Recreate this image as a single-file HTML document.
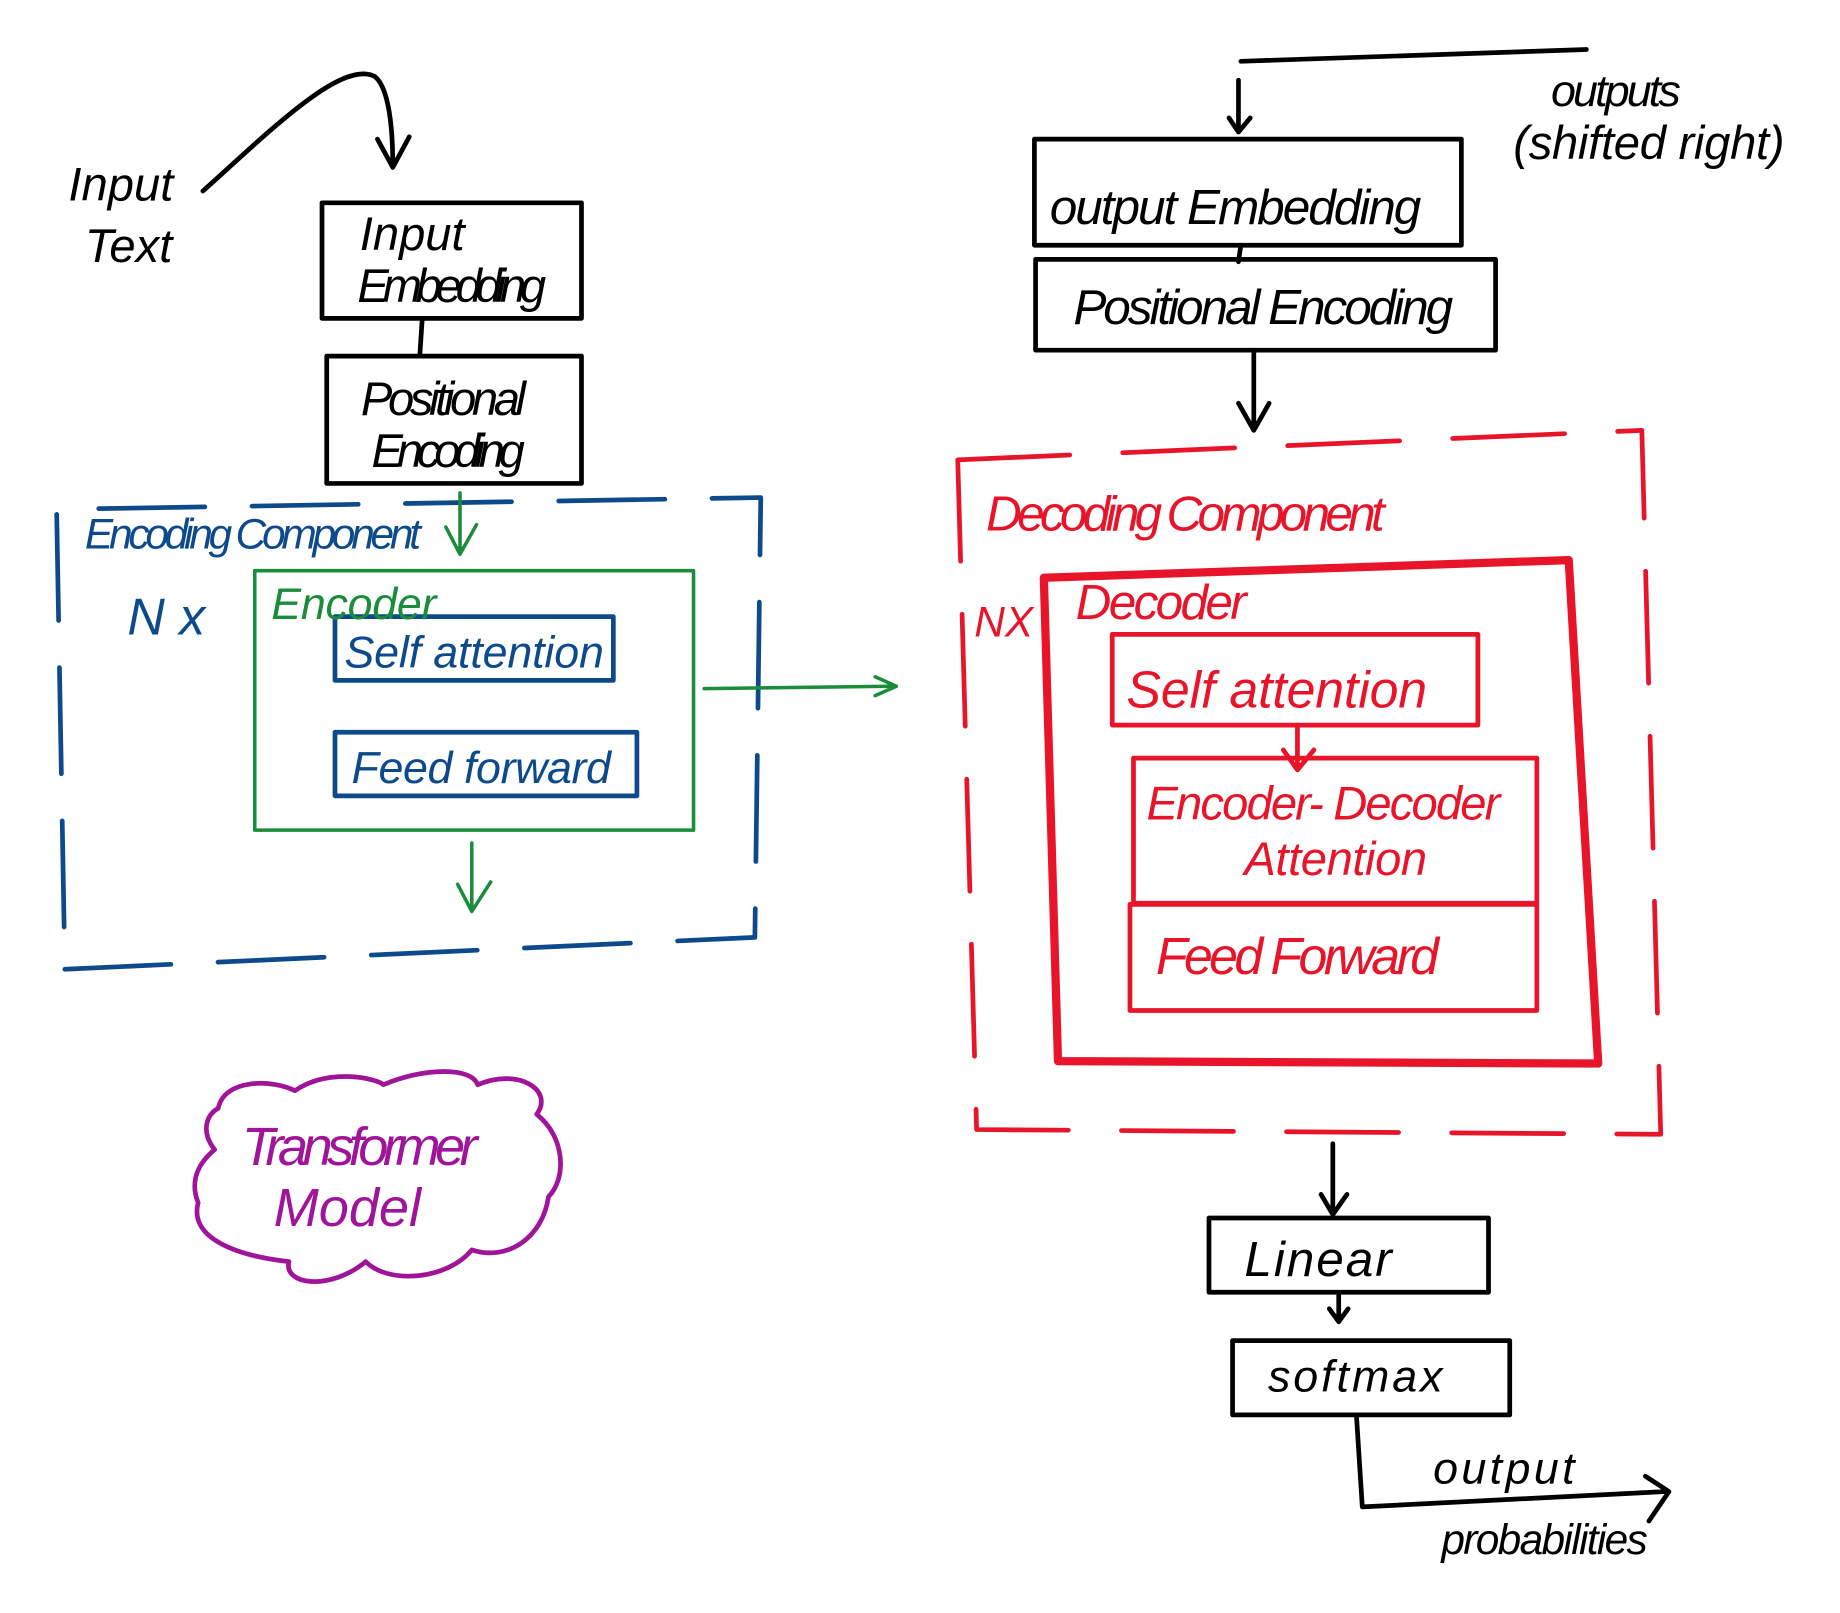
<!DOCTYPE html>
<html><head><meta charset="utf-8"><style>
html,body{margin:0;padding:0;background:#fff;}
svg{display:block;}
text{font-family:"Liberation Sans",sans-serif;font-style:italic;}
</style></head><body>
<svg width="1840" height="1613" viewBox="0 0 1560 1368" preserveAspectRatio="none" xmlns="http://www.w3.org/2000/svg">
<g fill="none" stroke-linecap="round" stroke-linejoin="round">
<!-- left black -->
<g stroke="#000" stroke-width="4">
<path d="M172,162 C230,110 290,50 318,65 C330,75 333,110 333,140"/>
<path d="M320,118 L333,142 L347,116"/>
<rect x="273" y="172" width="220" height="98"/>
<path d="M358,270 L356,300"/>
<rect x="277" y="302" width="216" height="108"/>
</g>
<!-- encoding component blue dashed -->
<g stroke="#0c4a8c" stroke-width="4">
<path d="M55,822 L640,795 L645,422 L48,432 Z" stroke-dasharray="90,40"/>
<rect x="284" y="523" width="236" height="54"/>
<rect x="284" y="621" width="256" height="54"/>
</g>
<g stroke="#1a8c3a" stroke-width="3">
<rect x="216" y="484" width="372" height="220"/>
<path d="M390,418 L390,468 M378,447 L390,470 L404,445"/>
<path d="M400,715 L400,772 M388,750 L400,773 L416,748"/>
<path d="M597,584 L758,582 M742,574 L760,582 L742,590"/>
</g>
<!-- cloud -->
<path stroke="#a0149a" stroke-width="4" d="M185,940 C190,915 230,915 250,925 C280,905 320,915 325,920 C360,905 400,905 405,920 C440,905 470,925 455,945 C480,965 480,1000 465,1015 C460,1050 430,1070 400,1060 C380,1085 330,1090 310,1070 C280,1095 240,1090 245,1070 C200,1065 160,1050 168,1020 C160,1000 170,985 182,975 C170,960 175,945 185,940 Z"/>
<!-- right black -->
<g stroke="#000" stroke-width="4">
<path d="M1052,52 L1345,42"/>
<path d="M1050,68 L1050,110 M1042,100 L1050,112 L1060,100"/>
<rect x="877" y="118" width="362" height="90"/>
<path d="M1052,208 L1050,222"/>
<rect x="878" y="220" width="390" height="77"/>
<path d="M1063,297 L1063,365 M1050,342 L1063,365 L1076,342"/>
<path d="M1130,970 L1130,1030 M1120,1013 L1130,1030 L1142,1013"/>
<rect x="1025" y="1033" width="237" height="63"/>
<path d="M1135,1097 L1135,1120 M1127,1110 L1135,1121 L1143,1110"/>
<rect x="1045" y="1137" width="235" height="63"/>
<path d="M1150,1200 L1155,1278 L1412,1265 M1395,1252 L1415,1265 L1398,1290"/>
</g>
<!-- decoding red -->
<g stroke="#e8142a" stroke-width="4">
<path d="M812,390 L1392,365 L1408,962 L828,958 Z" stroke-dasharray="95,45"/>
<path d="M885,490 L1330,475 L1355,902 L897,900 Z" stroke-width="7"/>
<rect x="943" y="538" width="310" height="77"/>
<path d="M1100,615 L1100,652 M1088,636 L1100,653 L1114,636"/>
<rect x="961" y="643" width="342" height="123"/>
<rect x="958" y="767" width="345" height="90"/>
</g>
</g>
<g font-size="40">
<text x="58" y="170" fill="#000">Input</text>
<text x="72" y="222" fill="#000">Text</text>
<text x="305" y="212" fill="#000">Input</text>
<text x="303" y="256" fill="#000" textLength="160">Embedding</text>
<text x="306" y="352" fill="#000" textLength="140">Positional</text>
<text x="315" y="396" fill="#000" textLength="130">Encoding</text>
<text x="72" y="465" fill="#0c4a8c" font-size="36" textLength="285">Encoding Component</text>
<text x="108" y="538" fill="#0c4a8c" font-size="44">N x</text>
<text x="230" y="525" fill="#1a8c3a" font-size="38" textLength="140">Encoder</text>
<text x="292" y="566" fill="#0c4a8c" font-size="38" textLength="220">Self attention</text>
<text x="298" y="664" fill="#0c4a8c" font-size="38" textLength="220">Feed forward</text>
<text x="205" y="988" fill="#a0149a" font-size="46" textLength="200">Transformer</text>
<text x="232" y="1040" fill="#a0149a" font-size="46" textLength="125">Model</text>
<text x="1315" y="90" fill="#000" font-size="38" textLength="110">outputs</text>
<text x="1283" y="135" fill="#000" font-size="40" textLength="230">(shifted right)</text>
<text x="890" y="190" fill="#000" font-size="42" textLength="315">output Embedding</text>
<text x="910" y="275" fill="#000" font-size="42" textLength="322">Positional Encoding</text>
<text x="836" y="450" fill="#e8142a" font-size="42" textLength="338">Decoding Component</text>
<text x="826" y="540" fill="#e8142a" font-size="36">NX</text>
<text x="912" y="525" fill="#e8142a" font-size="42" textLength="145">Decoder</text>
<text x="955" y="600" fill="#e8142a" font-size="44" textLength="255">Self attention</text>
<text x="972" y="695" fill="#e8142a" font-size="40" textLength="300">Encoder- Decoder</text>
<text x="1055" y="742" fill="#e8142a" font-size="40" textLength="155">Attention</text>
<text x="980" y="826" fill="#e8142a" font-size="44" textLength="240">Feed  Forward</text>
<text x="1055" y="1082" fill="#000" font-size="42" textLength="125">Linear</text>
<text x="1075" y="1180" fill="#000" font-size="38" textLength="148">softmax</text>
<text x="1215" y="1258" fill="#000" font-size="38" textLength="120">output</text>
<text x="1222" y="1318" fill="#000" font-size="36" textLength="175">probabilities</text>
</g>
</svg>
</body></html>
